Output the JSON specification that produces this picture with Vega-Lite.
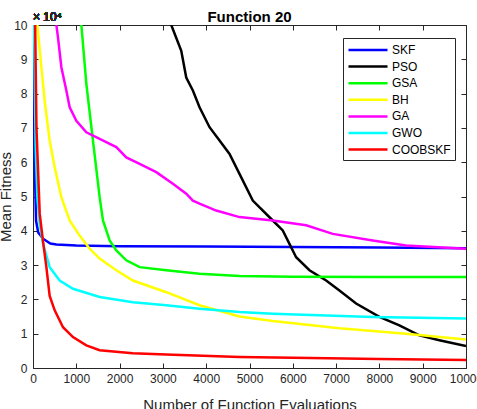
{
  "$schema": "https://vega.github.io/schema/vega-lite/v6.json",
  "width": 433,
  "height": 343,
  "autosize": {"type": "none"},
  "padding": {"left": 33, "top": 25, "right": 11, "bottom": 41},
  "background": "white",
  "config": {
    "font": "Liberation Sans",
    "view": {"stroke": "#262626", "strokeWidth": 1},
    "axis": {"labelFont": "Liberation Sans", "titleFont": "Liberation Sans", "labelColor": "#262626", "tickColor": "#262626", "domain": false, "grid": false, "labelFontSize": 12, "titleFontSize": 15, "titleFontWeight": "normal", "titleColor": "#262626"}
  },
  "title": {"text": "Function 20", "fontSize": 15, "fontWeight": "bold", "color": "#000000", "anchor": "middle", "offset": -26, "baseline": "alphabetic", "font": "Liberation Sans"},
  "data": {"values": [
    {"s":"SKF","x":8,"y":100000},{"s":"SKF","x":20,"y":80000},{"s":"SKF","x":40,"y":60000},{"s":"SKF","x":70,"y":43000},{"s":"SKF","x":120,"y":39500},{"s":"SKF","x":231,"y":37700},{"s":"SKF","x":400,"y":36300},{"s":"SKF","x":540,"y":36000},{"s":"SKF","x":1000,"y":35700},{"s":"SKF","x":2000,"y":35500},{"s":"SKF","x":4000,"y":35400},{"s":"SKF","x":6000,"y":35300},{"s":"SKF","x":8000,"y":35100},{"s":"SKF","x":10000,"y":34900},
    {"s":"PSO","x":3193,"y":100000},{"s":"PSO","x":3424,"y":92500},{"s":"PSO","x":3539,"y":84700},{"s":"PSO","x":3692,"y":80900},{"s":"PSO","x":3846,"y":76000},{"s":"PSO","x":4077,"y":70200},{"s":"PSO","x":4308,"y":66300},{"s":"PSO","x":4539,"y":62400},{"s":"PSO","x":4769,"y":56600},{"s":"PSO","x":5076,"y":48800},{"s":"PSO","x":5537,"y":43000},{"s":"PSO","x":5768,"y":40100},{"s":"PSO","x":5923,"y":36200},{"s":"PSO","x":6077,"y":32300},{"s":"PSO","x":6385,"y":28500},{"s":"PSO","x":6770,"y":25500},{"s":"PSO","x":7077,"y":22600},{"s":"PSO","x":7462,"y":18800},{"s":"PSO","x":8000,"y":14900},{"s":"PSO","x":8461,"y":12400},{"s":"PSO","x":8923,"y":9500},{"s":"PSO","x":9384,"y":8100},{"s":"PSO","x":10000,"y":6400},
    {"s":"GSA","x":1117,"y":100000},{"s":"GSA","x":1232,"y":82800},{"s":"GSA","x":1385,"y":66300},{"s":"GSA","x":1539,"y":49800},{"s":"GSA","x":1616,"y":43000},{"s":"GSA","x":1770,"y":37200},{"s":"GSA","x":1924,"y":34300},{"s":"GSA","x":2155,"y":31400},{"s":"GSA","x":2462,"y":29400},{"s":"GSA","x":3078,"y":28500},{"s":"GSA","x":3846,"y":27500},{"s":"GSA","x":4769,"y":26800},{"s":"GSA","x":6000,"y":26600},{"s":"GSA","x":8000,"y":26500},{"s":"GSA","x":10000,"y":26500},
    {"s":"BH","x":101,"y":100000},{"s":"BH","x":194,"y":87700},{"s":"BH","x":270,"y":77900},{"s":"BH","x":385,"y":66300},{"s":"BH","x":501,"y":58500},{"s":"BH","x":655,"y":49800},{"s":"BH","x":847,"y":43000},{"s":"BH","x":1077,"y":38600},{"s":"BH","x":1308,"y":34800},{"s":"BH","x":1539,"y":31900},{"s":"BH","x":1924,"y":28500},{"s":"BH","x":2307,"y":25500},{"s":"BH","x":3078,"y":22100},{"s":"BH","x":3846,"y":18300},{"s":"BH","x":4769,"y":15000},{"s":"BH","x":5537,"y":13700},{"s":"BH","x":7077,"y":11600},{"s":"BH","x":8616,"y":10000},{"s":"BH","x":10000,"y":8300},
    {"s":"GA","x":540,"y":100000},{"s":"GA","x":577,"y":96400},{"s":"GA","x":655,"y":87700},{"s":"GA","x":770,"y":80900},{"s":"GA","x":847,"y":76000},{"s":"GA","x":1001,"y":72100},{"s":"GA","x":1232,"y":68700},{"s":"GA","x":1539,"y":66800},{"s":"GA","x":1924,"y":64400},{"s":"GA","x":2155,"y":61400},{"s":"GA","x":2462,"y":59500},{"s":"GA","x":2847,"y":57100},{"s":"GA","x":3231,"y":53700},{"s":"GA","x":3539,"y":50800},{"s":"GA","x":3692,"y":48800},{"s":"GA","x":3846,"y":47900},{"s":"GA","x":4231,"y":45900},{"s":"GA","x":4769,"y":44000},{"s":"GA","x":5537,"y":43000},{"s":"GA","x":6308,"y":41600},{"s":"GA","x":6923,"y":39100},{"s":"GA","x":7845,"y":37200},{"s":"GA","x":8616,"y":35700},{"s":"GA","x":10000,"y":34800},
    {"s":"GWO","x":25,"y":100000},{"s":"GWO","x":60,"y":65000},{"s":"GWO","x":100,"y":50000},{"s":"GWO","x":155,"y":42000},{"s":"GWO","x":231,"y":36200},{"s":"GWO","x":385,"y":29400},{"s":"GWO","x":616,"y":25500},{"s":"GWO","x":923,"y":23100},{"s":"GWO","x":1539,"y":20700},{"s":"GWO","x":2307,"y":19200},{"s":"GWO","x":3078,"y":18300},{"s":"GWO","x":3846,"y":17300},{"s":"GWO","x":4769,"y":16300},{"s":"GWO","x":5537,"y":15800},{"s":"GWO","x":7845,"y":14900},{"s":"GWO","x":10000,"y":14400},
    {"s":"COOBSKF","x":50,"y":100000},{"s":"COOBSKF","x":80,"y":70000},{"s":"COOBSKF","x":155,"y":45000},{"s":"COOBSKF","x":231,"y":37000},{"s":"COOBSKF","x":309,"y":29400},{"s":"COOBSKF","x":385,"y":21000},{"s":"COOBSKF","x":501,"y":16800},{"s":"COOBSKF","x":693,"y":11900},{"s":"COOBSKF","x":923,"y":9000},{"s":"COOBSKF","x":1232,"y":6600},{"s":"COOBSKF","x":1539,"y":5200},{"s":"COOBSKF","x":2303,"y":4300},{"s":"COOBSKF","x":3072,"y":3900},{"s":"COOBSKF","x":4769,"y":3200},{"s":"COOBSKF","x":6000,"y":3000},{"s":"COOBSKF","x":8000,"y":2600},{"s":"COOBSKF","x":10000,"y":2300}
  ]},
  "layer": [
    {
      "mark": {"type": "line", "clip": true, "strokeWidth": 2.5},
      "encoding": {
        "x": {"field": "x", "type": "quantitative", "scale": {"domain": [0, 10000], "nice": false},
              "axis": {"orient": "bottom", "values": [0,1000,2000,3000,4000,5000,6000,7000,8000,9000,10000], "format": "d", "tickSize": -5, "labelPadding": 10, "title": "Number of Function Evaluations", "titleY": 41, "titleBaseline": "alphabetic", "labelFlush": false, "labelOverlap": false}},
        "y": {"field": "y", "type": "quantitative", "scale": {"domain": [0, 100000], "nice": false, "zero": true},
              "axis": {"orient": "left", "values": [0,10000,20000,30000,40000,50000,60000,70000,80000,90000,100000], "labelExpr": "datum.value / 10000", "tickSize": -5, "labelPadding": 11, "title": "Mean Fitness", "titleX": -23, "titleBaseline": "alphabetic", "labelFlush": false, "labelOverlap": false}},
        "color": {"field": "s", "type": "nominal",
                  "scale": {"domain": ["SKF","PSO","GSA","BH","GA","GWO","COOBSKF"], "range": ["#0000ff","#000000","#00ff00","#ffff00","#ff00ff","#00ffff","#ff0000"]},
                  "legend": {"orient": "none", "legendX": 310, "legendY": 13, "title": null, "symbolType": "M-3,0H3", "symbolSize": 169, "symbolStrokeWidth": 2.5, "labelFontSize": 12, "labelColor": "#000000", "labelFont": "Liberation Sans", "strokeColor": "#262626", "fillColor": "#ffffff", "padding": 4, "rowPadding": 2.6, "labelOffset": 16, "symbolOffset": 13}},
        "order": {"field": "x", "type": "quantitative"}
      }
    },
    {
      "mark": {"type": "point", "opacity": 0},
      "encoding": {
        "x": {"field": "x", "type": "quantitative", "axis": {"orient": "top", "values": [0,1000,2000,3000,4000,5000,6000,7000,8000,9000,10000], "tickSize": -5, "labels": false, "title": null}},
        "y": {"field": "y", "type": "quantitative", "axis": {"orient": "right", "values": [0,10000,20000,30000,40000,50000,60000,70000,80000,90000,100000], "tickSize": -5, "labels": false, "title": null}}
      }
    },
    {
      "mark": {"type": "text", "align": "left", "baseline": "alphabetic", "dy": -4, "fontSize": 12, "color": "#262626", "font": "Liberation Sans"},
      "encoding": {
        "x": {"datum": 0, "type": "quantitative", "axis": null},
        "y": {"datum": 100000, "type": "quantitative", "axis": null},
        "text": {"value": "× 10⁴"}
      }
    }
  ],
  "resolve": {"axis": {"x": "independent", "y": "independent"}}
}
